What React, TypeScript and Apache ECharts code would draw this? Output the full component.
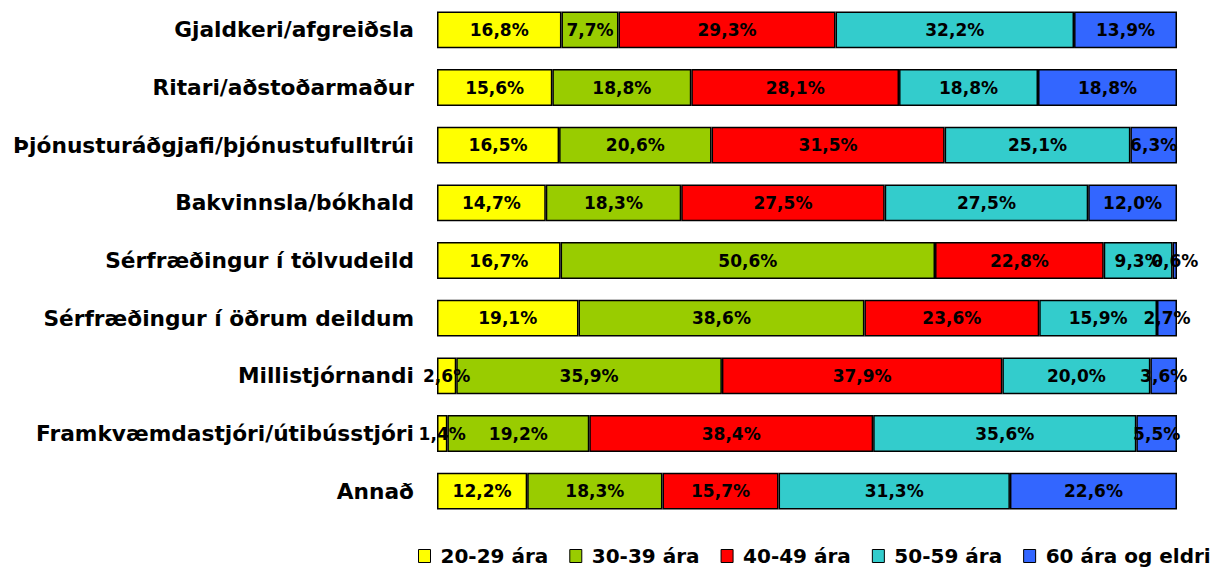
import React, { useEffect, useRef } from "react";
import * as echarts from "echarts";

const categories = [
  "Gjaldkeri/afgreiðsla",
  "Ritari/aðstoðarmaður",
  "Þjónusturáðgjafi/þjónustufulltrúi",
  "Bakvinnsla/bókhald",
  "Sérfræðingur í tölvudeild",
  "Sérfræðingur í öðrum deildum",
  "Millistjórnandi",
  "Framkvæmdastjóri/útibússtjóri",
  "Annað",
];

const seriesNames = ["20-29 ára", "30-39 ára", "40-49 ára", "50-59 ára", "60 ára og eldri"];
const colors = ["#FFFF00", "#99CC00", "#FF0000", "#33CCCC", "#3366FF"];

const age20 = [16.8, 15.6, 16.5, 14.7, 16.7, 19.1, 2.6, 1.4, 12.2];
const age30 = [7.7, 18.8, 20.6, 18.3, 50.6, 38.6, 35.9, 19.2, 18.3];
const age40 = [29.3, 28.1, 31.5, 27.5, 22.8, 23.6, 37.9, 38.4, 15.7];
const age50 = [32.2, 18.8, 25.1, 27.5, 9.3, 15.9, 20.0, 35.6, 31.3];
const age60 = [13.9, 18.8, 6.3, 12.0, 0.6, 2.7, 3.6, 5.5, 22.6];

const allSeries = [age20, age30, age40, age50, age60];

export default function App() {
  const ref = useRef<HTMLDivElement>(null);
  useEffect(() => {
    document.body.style.margin = "0";
    if (!ref.current) return;
    const chart = echarts.init(ref.current, null, { renderer: "svg" });
    const sums = categories.map((_, i) => allSeries.reduce((s, arr) => s + arr[i], 0));
    const font = "'DejaVu Sans', Arial, sans-serif";
    chart.setOption({
      animation: false,
      backgroundColor: "#ffffff",
      grid: { left: 437, right: 46, top: 1, height: 519, containLabel: false },
      xAxis: {
        type: "value",
        min: 0,
        max: 100,
        show: false,
      },
      yAxis: {
        type: "category",
        data: categories,
        inverse: true,
        axisLine: { show: false },
        axisTick: { show: false },
        axisLabel: {
          margin: 23,
          color: "#000",
          fontSize: 21.7,
          fontWeight: "bold",
          fontFamily: font,
        },
      },
      legend: {
        top: 545,
        left: 418,
        width: 805,
        padding: 0,
        itemWidth: 12,
        itemHeight: 13,
        itemGap: 21,
        icon: "rect",
        textStyle: {
          fontSize: 20,
          lineHeight: 22,
          fontWeight: "bold",
          color: "#000",
          fontFamily: font,
          padding: [0, 0, 0, 5],
        },
        data: seriesNames.map((n) => ({ name: n, itemStyle: { borderColor: "#000", borderWidth: 1 } })),
      },
      series: allSeries.map((arr, si) => ({
        name: seriesNames[si],
        type: "bar",
        stack: "total",
        barCategoryGap: "36%",
        itemStyle: { color: colors[si], borderColor: "#000", borderWidth: 1.5 },
        label: {
          show: true,
          position: "inside",
          color: "#000",
          fontSize: 17,
          fontWeight: "bold",
          fontFamily: font,
          formatter: (p: any) => arr[p.dataIndex].toFixed(1).replace(".", ",") + "%",
        },
        data: arr.map((v, i) => (v / sums[i]) * 100),
      })),
    });
    return () => chart.dispose();
  }, []);
  return <div ref={ref} style={{ width: 1223, height: 567 }} />;
}
